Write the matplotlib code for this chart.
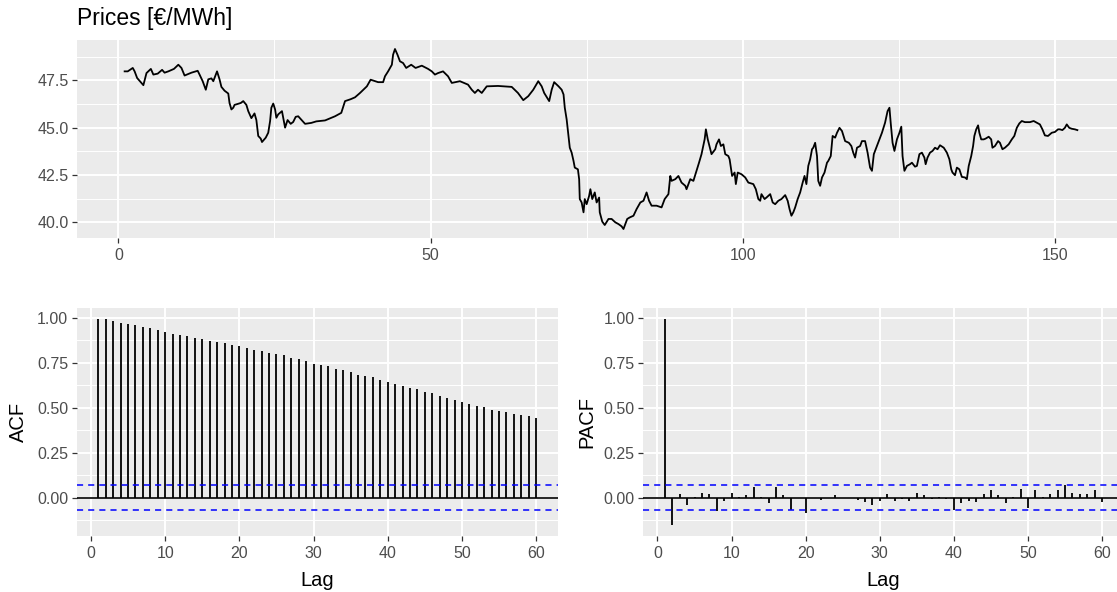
import matplotlib.pyplot as plt
import numpy as np
from matplotlib.ticker import FormatStrFormatter

plt.rcParams["font.family"] = ["Liberation Sans", "DejaVu Sans"]

W, H = 1117, 592

# daily prices, x in weeks (5 trading days per week)
week_a = [1.0, 1.5, 2.3, 2.6, 3.0, 3.7, 4.0, 4.5, 5.2, 5.6,
          6.3, 7.0, 7.4, 8.0, 8.9, 9.6, 10.1, 10.6, 11.7, 12.7,
          13.0, 13.5, 14.0, 14.4, 14.9, 15.2, 15.8, 16.2, 16.5, 17.0,
          17.6, 17.8, 18.1, 18.4, 18.6, 19.6, 20.0, 20.5, 20.8, 21.3,
          21.8, 22.1, 22.4, 22.8, 23.0, 23.6, 24.0, 24.3, 24.5, 24.8,
          25.1, 25.3, 25.6, 26.2, 26.7, 27.1, 27.6, 28.0, 28.4, 28.8,
          29.9, 30.9]
price_a = [47.97, 47.97, 48.15, 47.97, 47.62, 47.35, 47.24, 47.88, 48.10, 47.80,
           47.85, 48.05, 47.90, 47.97, 48.10, 48.32, 48.15, 47.75, 47.90, 48.00,
           47.80, 47.45, 47.00, 47.55, 47.60, 47.45, 47.97, 47.55, 47.15, 46.95,
           46.80, 46.30, 45.96, 46.05, 46.20, 46.30, 46.40, 46.20, 45.87, 45.50,
           45.75, 45.40, 44.56, 44.42, 44.24, 44.47, 44.73, 45.35, 46.05, 46.27,
           45.96, 45.52, 45.70, 45.87, 45.00, 45.40, 45.20, 45.30, 45.57, 45.60,
           45.20, 45.25]

week_b = [31.7, 33.1, 34.7, 35.7, 36.3, 37.2, 37.9, 38.7, 39.8, 40.4,
          41.6, 42.4, 42.7, 43.2, 43.8, 44.0, 44.3, 44.7, 45.1, 45.6,
          46.1, 46.9, 47.6, 48.6, 49.6, 50.2, 50.7, 51.2, 52.0, 52.8,
          53.4, 54.7, 56.0, 56.6, 57.1, 57.6, 58.2, 59.0, 60.8, 63.0]
price_b = [45.33, 45.38, 45.60, 45.78, 46.40, 46.50, 46.60, 46.83, 47.18, 47.53,
           47.40, 47.40, 47.71, 47.97, 48.32, 48.85, 49.15, 48.85, 48.50, 48.41,
           48.15, 48.32, 48.15, 48.27, 48.10, 47.97, 47.80, 47.88, 47.97, 47.71,
           47.36, 47.45, 47.27, 47.00, 46.83, 47.00, 46.83, 47.18, 47.20, 47.15]

week_c = [64.0, 64.85, 65.65, 66.45, 67.25, 67.8, 68.2, 69.0, 69.4, 69.8,
          70.5, 71.0, 71.3, 71.5, 71.8, 72.1, 72.3, 72.6, 72.9, 73.1,
          73.6, 73.8, 73.9, 74.2, 74.5, 74.7, 75.0, 75.4, 75.6, 75.9,
          76.3, 76.6, 77.0, 77.1, 77.5, 77.9, 78.5, 79.0, 79.6, 80.1,
          80.6, 80.9, 81.5, 81.9, 82.5, 83.0, 83.6, 84.1, 84.6, 85.0,
          85.4, 86.2, 87.0, 87.5, 88.1, 88.4, 88.6, 89.2, 89.7, 90.2,
          90.8, 91.0, 91.6, 92.1, 92.6, 93.0, 93.4, 93.9, 94.1, 94.4,
          94.8]
price_c = [46.83, 46.45, 46.66, 47.00, 47.45, 47.18, 46.83, 46.40, 47.00, 47.40,
           47.18, 47.00, 46.75, 46.05, 45.43, 44.56, 43.94, 43.68, 43.24, 42.89,
           42.80, 42.28, 41.23, 41.05, 40.53, 41.23, 40.96, 41.40, 41.75, 41.23,
           41.58, 41.05, 41.31, 40.53, 40.04, 39.86, 40.18, 40.18, 40.00, 39.91,
           39.79, 39.65, 40.18, 40.26, 40.35, 40.70, 41.05, 41.14, 41.58, 41.14,
           40.88, 40.88, 40.79, 41.23, 41.49, 42.45, 42.19, 42.28, 42.45, 42.10,
           41.93, 41.75, 42.28, 42.19, 42.72, 43.15, 43.60, 44.38, 44.91, 44.38,
           43.86]

week_d = [95.0, 95.6, 95.8, 96.2, 96.5, 96.9, 97.2, 97.7, 97.9, 98.3,
          98.7, 98.9, 99.2, 99.8, 100.4, 100.9, 101.7, 102.1, 102.5, 102.8,
          103.0, 103.5, 103.8, 104.4, 104.8, 105.2, 105.7, 106.2, 106.8, 107.2,
          107.5, 107.8, 108.1, 108.4, 108.8, 109.2, 109.6, 109.9, 110.2, 110.5,
          110.8, 111.1, 111.3, 111.6, 111.9, 112.1, 112.4, 112.7, 113.1, 113.5,
          113.7, 114.1, 114.4, 114.8, 115.1, 115.5, 115.9, 116.4, 117.0, 117.4,
          117.7, 118.0, 118.3, 118.8, 119.1, 119.6, 120.0, 120.4, 120.7, 121.0,
          121.3, 121.7, 122.3, 122.8, 123.2, 123.5, 123.7, 124.0, 124.3, 124.7,
          125.1, 125.4, 125.6, 125.9, 126.3, 126.8]
price_d = [43.60, 43.86, 44.12, 44.38, 44.03, 44.12, 43.60, 43.50, 43.33, 42.45,
           42.63, 42.02, 42.63, 42.54, 42.37, 42.10, 42.02, 41.75, 41.23, 41.14,
           41.49, 41.23, 41.31, 41.49, 41.05, 40.96, 41.14, 41.23, 41.44, 41.14,
           40.70, 40.35, 40.53, 40.79, 41.23, 41.58, 42.10, 42.45, 42.02, 42.98,
           43.33, 43.86, 43.94, 44.20, 43.50, 42.19, 41.93, 42.37, 42.63, 43.15,
           43.24, 43.50, 44.56, 44.47, 44.73, 44.99, 44.82, 44.29, 44.20, 44.03,
           43.68, 43.42, 43.94, 44.03, 44.29, 44.29, 43.68, 42.89, 42.72, 43.60,
           43.86, 44.20, 44.73, 45.26, 45.87, 46.05, 45.26, 44.20, 43.77, 44.38,
           44.73, 45.05, 43.50, 42.72, 42.98, 43.07]

week_e = [127.1, 127.6, 127.9, 128.3, 128.7, 129.1, 129.3, 129.6, 130.0, 130.4,
          130.8, 131.2, 131.6, 132.2, 132.7, 133.1, 133.4, 133.6, 134.0, 134.3,
          134.7, 135.1, 135.6, 135.9, 136.2, 136.6, 136.9, 137.1, 137.4, 137.7,
          137.9, 138.2, 138.6, 138.9, 139.4, 139.8, 140.0, 140.4, 140.9, 141.2,
          141.6, 142.0, 142.6, 143.1, 143.5, 143.9, 144.3, 144.7, 145.2, 146.0,
          146.6, 147.1, 147.6, 148.0, 148.4, 148.9, 149.5, 150.0, 150.5, 150.8,
          151.2, 151.6, 151.9, 152.3, 152.7, 153.2, 153.6]
price_e = [43.15, 42.94, 42.98, 43.60, 43.68, 43.42, 43.07, 43.42, 43.68, 43.77,
           43.94, 43.86, 44.07, 43.94, 43.68, 43.33, 42.80, 42.63, 42.49, 42.89,
           42.80, 42.40, 42.37, 42.28, 42.98, 43.50, 44.03, 44.56, 44.91, 45.12,
           44.73, 44.38, 44.38, 44.42, 44.52, 44.38, 43.94, 44.03, 44.29, 44.20,
           43.86, 43.94, 44.12, 44.38, 44.56, 44.99, 45.22, 45.35, 45.29, 45.29,
           45.35, 45.26, 45.17, 44.91, 44.59, 44.56, 44.73, 44.77, 44.91, 44.91,
           44.87, 44.99, 45.17, 44.99, 44.94, 44.91, 44.87]

week = week_a + week_b + week_c + week_d + week_e
price = price_a + price_b + price_c + price_d + price_e

lags = list(range(1, 61))
acf_vals = [0.996, 0.994, 0.981, 0.974, 0.967, 0.959, 0.950, 0.943, 0.935, 0.920,
            0.913, 0.906, 0.898, 0.889, 0.881, 0.874, 0.867, 0.859, 0.852, 0.843,
            0.835, 0.822, 0.815, 0.807, 0.800, 0.791, 0.776, 0.769, 0.761, 0.746,
            0.737, 0.730, 0.717, 0.709, 0.700, 0.685, 0.678, 0.669, 0.656, 0.646,
            0.633, 0.624, 0.611, 0.604, 0.589, 0.580, 0.565, 0.556, 0.543, 0.533,
            0.519, 0.511, 0.504, 0.489, 0.480, 0.474, 0.467, 0.459, 0.452, 0.446]
pacf_vals = [0.996, -0.154, 0.019, -0.043, 0.003, 0.028, 0.020, -0.074, -0.020, 0.028,
             0.003, 0.013, 0.057, 0.002, -0.028, 0.057, 0.013, -0.070, -0.002, -0.087,
             0.001, -0.013, -0.002, 0.013, 0.000, 0.001, -0.013, -0.024, -0.039, -0.017,
             0.020, -0.017, -0.009, -0.017, 0.028, 0.013, -0.009, 0.002, -0.009, -0.069,
             -0.031, -0.017, -0.024, 0.019, 0.043, 0.013, -0.031, 0.002, 0.050, -0.057,
             0.043, 0.002, 0.020, 0.043, 0.072, 0.028, 0.019, 0.019, 0.043, -0.024]
n_obs = 765

PANEL = "#EBEBEB"
TICK_TXT = "#4D4D4D"
TICK_LINE = "#333333"


def px_axes(fig, left, top, right, bottom):
    return fig.add_axes([left / W, 1 - bottom / H, (right - left) / W, (bottom - top) / H])


def expand(lo, hi, f=0.05):
    pad = (hi - lo) * f
    return lo - pad, hi + pad


def gg_style(ax, xmajor, xminor, ymajor, yminor, yfmt):
    ax.set_facecolor(PANEL)
    for s in ax.spines.values():
        s.set_visible(False)
    ax.set_xticks(xmajor)
    ax.set_xticks(xminor, minor=True)
    ax.set_yticks(ymajor)
    ax.set_yticks(yminor, minor=True)
    ax.yaxis.set_major_formatter(FormatStrFormatter(yfmt))
    ax.grid(which="major", color="white", lw=1.4)
    ax.grid(which="minor", color="white", lw=0.7)
    ax.set_axisbelow(True)
    ax.tick_params(which="major", length=3.4, width=0.9, color=TICK_LINE,
                   labelcolor=TICK_TXT, labelsize=11.5, pad=2.6)
    ax.tick_params(axis="x", which="major", pad=4.0)
    ax.tick_params(which="minor", length=0)


fig = plt.figure(figsize=(W / 100, H / 100), dpi=100)

# time series
ax_ts = px_axes(fig, 77, 40, 1125, 238)
ax_ts.plot(week, price, color="black", lw=1.3)
ax_ts.set_xlim(*expand(min(week), max(week)))
ax_ts.set_ylim(*expand(min(price), max(price)))
gg_style(ax_ts, [0, 50, 100, 150], [25, 75, 125],
         [40.0, 42.5, 45.0, 47.5], [41.25, 43.75, 46.25, 48.75], "%.1f")
fig.text(77 / W, 1 - 19 / H, "Prices [€/MWh]", fontsize=16.5, ha="left", va="center")

# correlograms share the same y range
ci = 1.96 / np.sqrt(n_obs)
ylo, yhi = expand(min(min(acf_vals), min(pacf_vals), -ci), max(max(acf_vals), max(pacf_vals), ci))

panels = [
    (px_axes(fig, 76.5, 308.3, 558, 535.7), acf_vals, "ACF", 18.3, 317),
    (px_axes(fig, 643, 308.3, 1124, 535.7), pacf_vals, "PACF", 587, 883.5),
]
for ax, vals, name, ylab_x, xlab_x in panels:
    ax.vlines(lags, 0, vals, color="black", lw=1.3)
    ax.axhline(0, color="black", lw=1.2)
    for level in (ci, -ci):
        ax.axhline(level, color="#0000FF", lw=1.1, ls=(0, (4, 3.3)))
    ax.set_xlim(*expand(min(lags), max(lags)))
    ax.set_ylim(ylo, yhi)
    gg_style(ax, list(range(0, 61, 10)), [],
             [0.0, 0.25, 0.5, 0.75, 1.0], [-0.125, 0.125, 0.375, 0.625, 0.875], "%.2f")
    fig.text(ylab_x / W, 1 - 422 / H, name, fontsize=14.5, rotation=90, ha="center", va="center")
    fig.text(xlab_x / W, 1 - 580 / H, "Lag", fontsize=14.5, ha="center", va="center")

fig.savefig("out.png", dpi=100)
